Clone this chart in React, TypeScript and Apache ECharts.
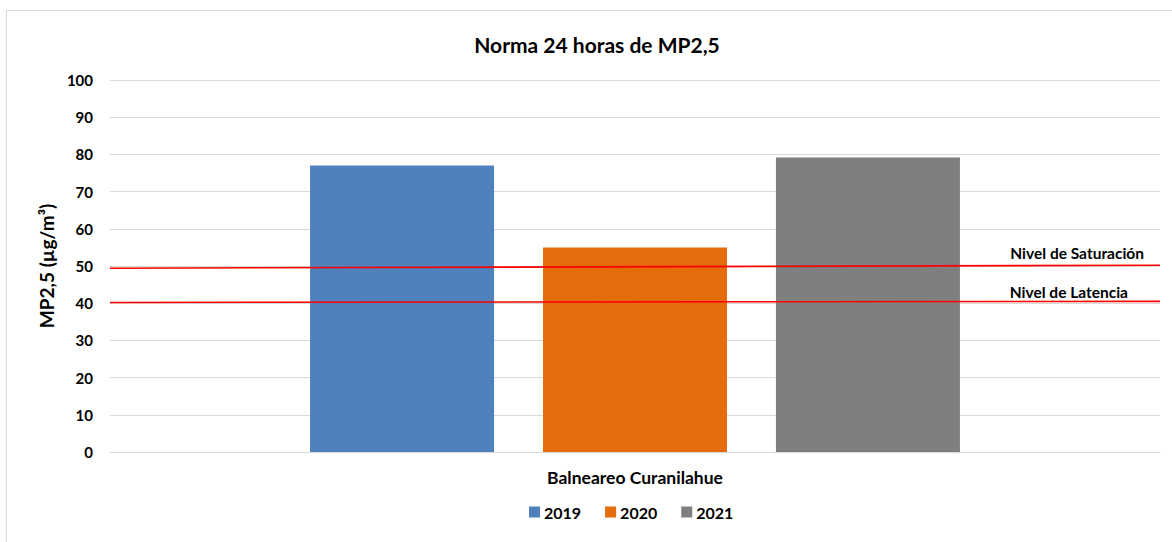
import React, { useEffect, useRef } from "react";
import * as echarts from "echarts";

const categories = ["Balneareo Curanilahue"];
const years = ["2019", "2020", "2021"];
const values2019 = [77];
const values2020 = [55];
const values2021 = [79.2];
const barColors = ["#4F81BD", "#E46C0A", "#7F7F7F"];
const saturacionLine = [49.4, 50.2];
const latenciaLine = [40.2, 40.5];
const yTicks = { min: 0, max: 100, interval: 10 };

const FONT = "Lato, 'Open Sans', sans-serif";

export default function App() {
  const ref = useRef<HTMLDivElement>(null);
  useEffect(() => {
    if (!ref.current) return;
    const chart = echarts.init(ref.current, null, { renderer: "svg" });
    const seriesValues = [values2019, values2020, values2021];
    const bars = years.map((y, i) => ({
      name: y,
      type: "bar",
      data: seriesValues[i],
      barWidth: 184,
      barGap: "26.6%",
      itemStyle: { color: barColors[i] },
      xAxisIndex: 0,
    }));
    const refLine = (name: string, vals: number[], dist: number, dx: number) => ({
      name,
      type: "line",
      xAxisIndex: 1,
      data: [
        [0, vals[0]],
        {
          value: [1, vals[1]],
          label: {
            show: true,
            formatter: name,
            position: "top",
            align: "right",
            distance: dist,
            offset: [dx, 0],
            color: "#000",
            fontWeight: "bold",
            fontSize: 15.5,
            fontFamily: FONT,
          },
        },
      ],
      symbol: "circle",
      symbolSize: 0,
      showSymbol: true,
      lineStyle: { color: "#FF0000", width: 1.6 },
      itemStyle: { color: "#FF0000" },
      z: 5,
      silent: true,
    });
    chart.setOption({
      animation: false,
      backgroundColor: "#fff",
      textStyle: { fontFamily: FONT },
      title: {
        text: "Norma 24 horas de MP2,5",
        left: 592,
        textAlign: "center",
        top: 29,
        textStyle: { fontSize: 21, fontWeight: "bold", color: "#000", fontFamily: FONT },
      },
      graphic: [
        {
          type: "rect",
          shape: { x: 6.5, y: 10.5, width: 1300, height: 700 },
          style: { fill: "none", stroke: "#d9d9d9", lineWidth: 1 },
          z: -10,
          silent: true,
        },
      ],
      legend: {
        data: years,
        left: 524,
        top: 499,
        icon: "rect",
        itemWidth: 11,
        itemHeight: 11,
        itemGap: 24,
        textStyle: { fontSize: 16, fontWeight: "bold", color: "#000", fontFamily: FONT, padding: [0, 0, 0, -1] },
      },
      grid: { left: 110, right: 12, top: 80, bottom: 90, containLabel: false },
      xAxis: [
        {
          type: "category",
          data: categories,
          axisLine: { lineStyle: { color: "#d9d9d9", width: 1 } },
          axisTick: { show: false },
          axisLabel: { color: "#000", fontWeight: "bold", fontSize: 17.5, fontFamily: FONT, margin: 16 },
        },
        { type: "value", min: 0, max: 1, show: false },
      ],
      yAxis: {
        type: "value",
        min: yTicks.min,
        max: yTicks.max,
        interval: yTicks.interval,
        name: "MP2,5 (µg/m³)",
        nameLocation: "middle",
        nameRotate: 90,
        nameGap: 54,
        nameTextStyle: { color: "#000", fontWeight: "bold", fontSize: 19, fontFamily: FONT },
        axisLine: { show: false },
        axisTick: { show: false },
        axisLabel: { color: "#000", fontWeight: "bold", fontSize: 15, fontFamily: FONT, margin: 17 },
        splitLine: { lineStyle: { color: "#d9d9d9", width: 1 } },
      },
      series: [
        ...bars,
        refLine("Nivel de Saturación", saturacionLine, 4, -16),
        refLine("Nivel de Latencia", latenciaLine, 1, -32),
      ],
    });
    return () => chart.dispose();
  }, []);
  return (
    <div
      ref={ref}
      style={{ position: "fixed", left: 0, top: 0, width: 1172, height: 542 }}
    />
  );
}
